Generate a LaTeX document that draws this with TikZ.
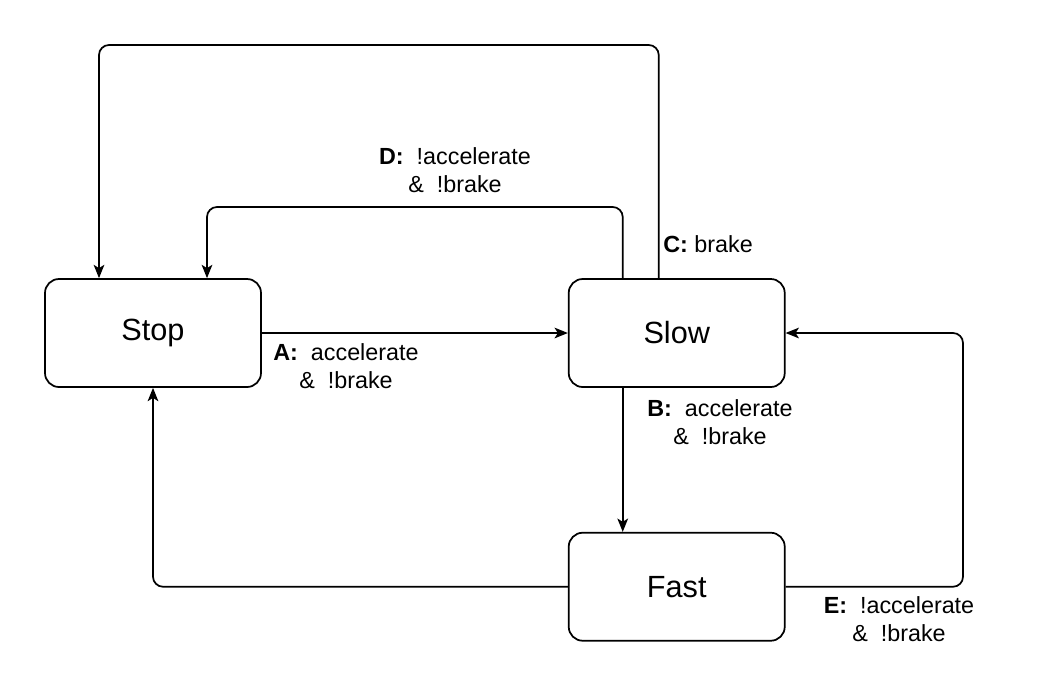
\documentclass[tikz,border=0pt]{standalone}
\usepackage{fontspec}
\setmainfont{Liberation Sans}
\usetikzlibrary{positioning, arrows.meta}

\tikzset{
  state/.style={draw, line width=1.3pt, rounded corners=10.5pt,
    minimum width=162pt, minimum height=81pt, inner sep=0pt,
    font=\fontsize{23}{27}\selectfont},
  link/.style={line width=1.3pt, rounded corners=7.5pt,
    -{Stealth[length=10pt, width=8pt, inset=2.5pt]}},
  cond/.style={align=center, inner sep=0pt,
    font=\fontsize{17.5}{20.5}\selectfont}
}

\begin{document}
\begin{tikzpicture}[x=0.75pt, y=-0.75pt]
    \useasboundingbox (0,0) rectangle (1047,697);

    \node[state] (stop) at (153,333) {Stop};
    \node[state, right=229.5pt of stop] (slow) {Slow};
    \node[state, below=108pt of slow] (fast) {Fast};

    % end points on the box edges
    \coordinate (cout) at ([xshift=-13.5pt]slow.north);
    \coordinate (cin)  at ([xshift=-40.5pt]stop.north);
    \coordinate (dout) at ([xshift=-40.5pt]slow.north);
    \coordinate (din)  at ([xshift=40.5pt]stop.north);
    \coordinate (bout) at ([xshift=-40.5pt]slow.south);
    \coordinate (ctop) at (0,45);
    \coordinate (dtop) at (0,207);
    \coordinate (eside) at (963,0);

    \draw[link] (stop) -- (slow);
    \draw[link] (bout) -- (bout |- fast.north);
    \draw[link] (cout) -- (cout |- ctop) -- (cin |- ctop) -- (cin);
    \draw[link] (dout) -- (dout |- dtop) -- (din |- dtop) -- (din);
    \draw[link] (fast.east) -- (fast.east -| eside) -- (slow.east -| eside) -- (slow.east);
    \draw[link] (fast.west) -- (fast.west -| stop.south) -- (stop.south);

    \node[cond] (la) at (346,366) {\textbf{A:}\ \ accelerate\\ \&\ \ !brake};
    \node[cond] (lb) at (720,422) {\textbf{B:}\ \ accelerate\\ \&\ \ !brake};
    \node[cond] (lc) at (708,244) {\textbf{C:} brake};
    \node[cond] (ld) at (455,170) {\textbf{D:}\ \ !accelerate\\ \&\ \ !brake};
    \node[cond] (le) at (899,619) {\textbf{E:}\ \ !accelerate\\ \&\ \ !brake};
\end{tikzpicture}
\end{document}
